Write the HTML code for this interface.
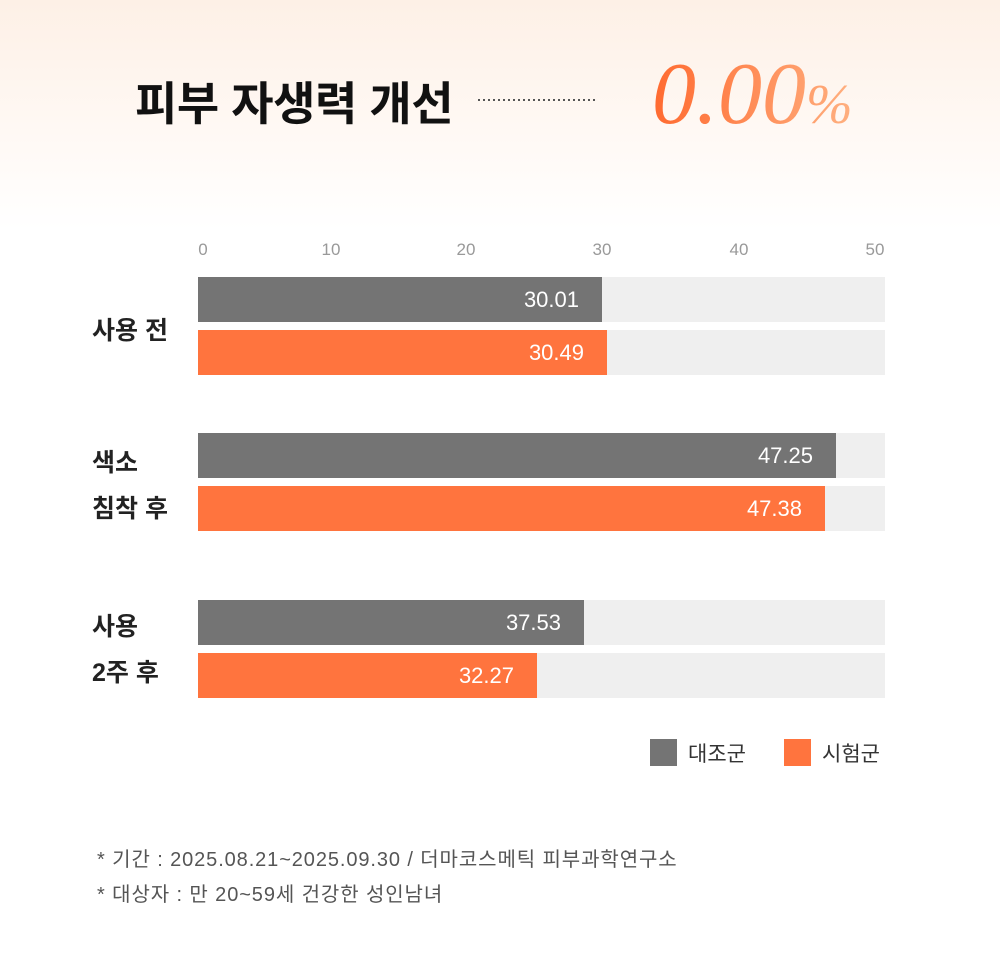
<!DOCTYPE html>
<html><head><meta charset="utf-8"><style>
body{margin:0;width:1000px;height:955px;position:relative;overflow:hidden;font-family:"Liberation Sans","Noto Sans CJK KR",sans-serif;background:linear-gradient(180deg,#fdf0e6 0px,#fff8f3 120px,#ffffff 230px);}
.a{position:absolute;white-space:nowrap}
.tick{position:absolute;top:240px;font-size:17px;color:#999;transform:translateX(-50%)}
.track{position:absolute;left:198px;width:687px;height:45px;background:#efefef}
.bar{position:absolute;left:0;top:0;height:45px}
.bar span{position:absolute;right:23px;top:10px;color:#fff;font-size:22px}
.g{background:#747474}.o{background:#ff743e}
.lab{position:absolute;left:92px;font-size:25px;font-weight:bold;color:#222;line-height:46px;letter-spacing:0px}
</style></head><body>
<div class="a" style="left:135px;top:68px;font-size:46px;font-weight:bold;color:#111;letter-spacing:-0.4px">피부 자생력 개선</div>
<div class="a" style="left:478px;top:99px;width:120px;height:2px;background:repeating-linear-gradient(90deg,#555 0 2px,transparent 2px 5px)"></div>
<div class="a" style="left:652px;top:44px;font-family:'Liberation Serif',serif;font-style:italic;font-size:88px;background:linear-gradient(90deg,#ff6a30,#ffb080);-webkit-background-clip:text;color:transparent">0.00<span style="font-size:56px">%</span></div>
<div class="tick" style="left:203px">0</div><div class="tick" style="left:331px">10</div><div class="tick" style="left:466px">20</div><div class="tick" style="left:602px">30</div><div class="tick" style="left:739px">40</div><div class="tick" style="left:875px">50</div>
<div class="track" style="top:277px"><div class="bar g" style="width:404px"><span>30.01</span></div></div>
<div class="track" style="top:330px"><div class="bar o" style="width:409px"><span>30.49</span></div></div>
<div class="track" style="top:433px"><div class="bar g" style="width:638px"><span>47.25</span></div></div>
<div class="track" style="top:486px"><div class="bar o" style="width:627px"><span>47.38</span></div></div>
<div class="track" style="top:600px"><div class="bar g" style="width:386px"><span>37.53</span></div></div>
<div class="track" style="top:653px"><div class="bar o" style="width:339px"><span>32.27</span></div></div>
<div class="lab" style="top:308px">사용 전</div>
<div class="lab" style="top:440px">색소<br>침착 후</div>
<div class="lab" style="top:604px">사용<br>2주 후</div>
<div class="a" style="left:650px;top:739px;width:27px;height:27px;background:#747474"></div>
<div class="a" style="left:688px;top:738px;font-size:21px;color:#333">대조군</div>
<div class="a" style="left:784px;top:739px;width:27px;height:27px;background:#ff743e"></div>
<div class="a" style="left:822px;top:738px;font-size:21px;color:#333">시험군</div>
<div class="a" style="left:97px;top:843px;font-size:20px;color:#555;letter-spacing:0.9px">* 기간 : 2025.08.21~2025.09.30 / 더마코스메틱 피부과학연구소</div>
<div class="a" style="left:97px;top:878px;font-size:20px;color:#555;letter-spacing:0.9px">* 대상자 : 만 20~59세 건강한 성인남녀</div>
</body></html>
